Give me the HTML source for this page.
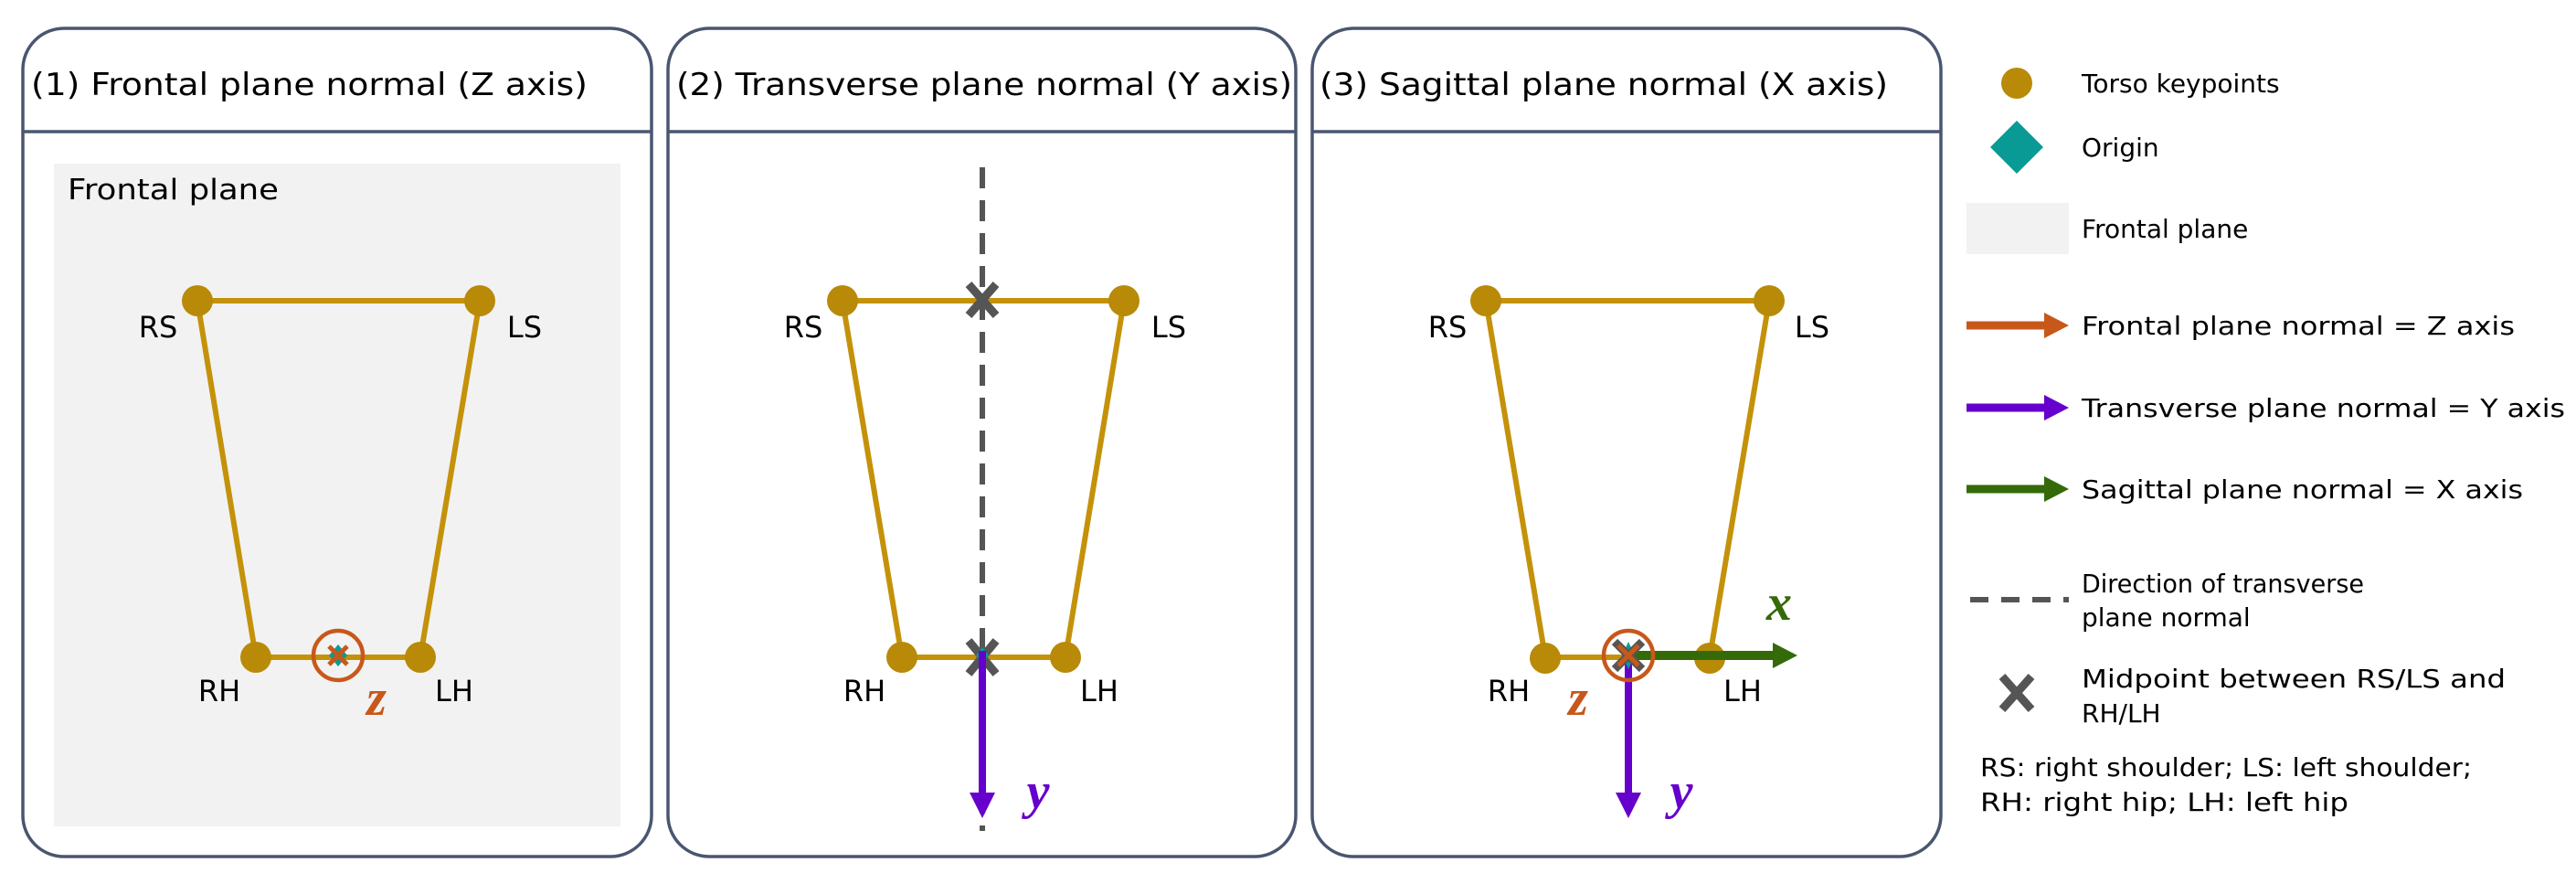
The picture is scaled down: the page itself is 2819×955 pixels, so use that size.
<!DOCTYPE html>
<html><head><meta charset="utf-8"><style>
html,body{margin:0;padding:0;background:#fff;}
svg{display:block;}
text{font-family:"DejaVu Sans","Liberation Sans",sans-serif;fill:#000;}
.it{font-family:"Liberation Serif",serif;font-style:italic;font-weight:bold;}
</style></head><body>
<svg width="2819" height="955" viewBox="0 0 2819 955" xmlns="http://www.w3.org/2000/svg">
<!-- Panels -->
<g fill="none" stroke="#4a5670" stroke-width="3.5">
<rect x="25" y="31" width="688" height="906" rx="45"/>
<line x1="25" y1="144" x2="713" y2="144"/>
<rect x="731" y="31" width="687" height="906" rx="45"/>
<line x1="731" y1="144" x2="1418" y2="144"/>
<rect x="1436" y="31" width="688" height="906" rx="45"/>
<line x1="1436" y1="144" x2="2124" y2="144"/>
</g>
<g font-size="34">
<text x="34" y="104" textLength="609" lengthAdjust="spacingAndGlyphs">(1) Frontal plane normal (Z axis)</text>
<text x="740" y="104" textLength="674" lengthAdjust="spacingAndGlyphs">(2) Transverse plane normal (Y axis)</text>
<text x="1444" y="104" textLength="622" lengthAdjust="spacingAndGlyphs">(3) Sagittal plane normal (X axis)</text>
</g>

<!-- Panel 1 -->
<rect x="59" y="179" width="620" height="725" fill="#f2f2f2"/>
<text x="74" y="218" font-size="31" textLength="231" lengthAdjust="spacingAndGlyphs">Frontal plane</text>
<g stroke="#c4920a" stroke-width="6" fill="none">
<polyline points="216,329 525,329 460,719 280,719 216,329"/>
</g>
<g fill="#b88a08"><circle cx="216" cy="329" r="17"/><circle cx="525" cy="329" r="17"/><circle cx="280" cy="719" r="17"/><circle cx="460" cy="719" r="17"/></g>
<g font-size="32">
<text x="173" y="369" text-anchor="middle">RS</text><text x="574" y="369" text-anchor="middle">LS</text>
<text x="240" y="767" text-anchor="middle">RH</text><text x="497" y="767" text-anchor="middle">LH</text>
</g>
<polygon points="370,705 380,717 370,729 360,717" fill="#0a9a96"/>
<g stroke="#c8581a" stroke-width="5"><line x1="360" y1="707" x2="380" y2="727"/><line x1="380" y1="707" x2="360" y2="727"/></g>
<circle cx="370" cy="717" r="27" fill="none" stroke="#c8581a" stroke-width="4.5"/>
<text class="it" x="412" y="782" font-size="56" text-anchor="middle" style="fill:#c8581a">z</text>

<!-- Panel 2 -->
<g stroke="#c4920a" stroke-width="6" fill="none">
<polyline points="922,329 1230,329 1166,719 987,719 922,329"/>
</g>
<line x1="1075" y1="183" x2="1075" y2="909" stroke="#555" stroke-width="6" stroke-dasharray="23,13"/>
<g fill="#b88a08"><circle cx="922" cy="329" r="17"/><circle cx="1230" cy="329" r="17"/><circle cx="987" cy="719" r="17"/><circle cx="1166" cy="719" r="17"/></g>
<g stroke="#555" stroke-width="9"><line x1="1060" y1="311" x2="1090" y2="345"/><line x1="1090" y1="311" x2="1060" y2="345"/>
<line x1="1060" y1="701" x2="1090" y2="737"/><line x1="1090" y1="701" x2="1060" y2="737"/></g>
<polygon points="1075,708 1082,717 1075,726 1068,717" fill="#0a9a96"/>
<line x1="1075" y1="712" x2="1075" y2="870" stroke="#6600cc" stroke-width="8"/>
<polygon points="1061,867 1089,867 1075,895" fill="#6600cc"/>
<text class="it" x="1136" y="884" font-size="56" text-anchor="middle" style="fill:#6600cc">y</text>
<g font-size="32">
<text x="879" y="369" text-anchor="middle">RS</text><text x="1279" y="369" text-anchor="middle">LS</text>
<text x="946" y="767" text-anchor="middle">RH</text><text x="1203" y="767" text-anchor="middle">LH</text>
</g>

<!-- Panel 3 -->
<g stroke="#c4920a" stroke-width="6" fill="none">
<polyline points="1626,329 1936,329 1871,719 1691,719 1626,329"/>
</g>
<g fill="#b88a08"><circle cx="1626" cy="329" r="17"/><circle cx="1936" cy="329" r="17"/><circle cx="1691" cy="720" r="17"/><circle cx="1871" cy="720" r="17"/></g>
<line x1="1782" y1="717" x2="1942" y2="717" stroke="#356a08" stroke-width="10"/>
<polygon points="1940,703 1967,717 1940,731" fill="#356a08"/>
<line x1="1782" y1="717" x2="1782" y2="870" stroke="#6600cc" stroke-width="8"/>
<polygon points="1768,867 1796,867 1782,895" fill="#6600cc"/>
<polygon points="1782,702 1789,717 1782,732 1775,717" fill="#0a9a96"/>
<g stroke="#555" stroke-width="9"><line x1="1767" y1="702" x2="1797" y2="732"/><line x1="1797" y1="702" x2="1767" y2="732"/></g>
<g stroke="#c8581a" stroke-width="5"><line x1="1771" y1="706" x2="1793" y2="728"/><line x1="1793" y1="706" x2="1771" y2="728"/></g>
<circle cx="1782" cy="717" r="27" fill="none" stroke="#c8581a" stroke-width="4.5"/>
<text class="it" x="1947" y="678" font-size="56" text-anchor="middle" style="fill:#356a08">x</text>
<text class="it" x="1727" y="782" font-size="56" text-anchor="middle" style="fill:#c8581a">z</text>
<text class="it" x="1840" y="884" font-size="56" text-anchor="middle" style="fill:#6600cc">y</text>
<g font-size="32">
<text x="1584" y="369" text-anchor="middle">RS</text><text x="1983" y="369" text-anchor="middle">LS</text>
<text x="1651" y="767" text-anchor="middle">RH</text><text x="1907" y="767" text-anchor="middle">LH</text>
</g>

<!-- Legend -->
<circle cx="2207" cy="91" r="17" fill="#b88a08"/>
<polygon points="2207,132 2236,161 2207,190 2178,161" fill="#0a9a96"/>
<rect x="2152" y="222" width="112" height="56" fill="#f2f2f2"/>
<line x1="2152" y1="356" x2="2240" y2="356" stroke="#c8581a" stroke-width="9"/><polygon points="2237,342 2264,356 2237,370" fill="#c8581a"/>
<line x1="2152" y1="446" x2="2240" y2="446" stroke="#6600cc" stroke-width="9"/><polygon points="2237,432 2264,446 2237,460" fill="#6600cc"/>
<line x1="2152" y1="535" x2="2240" y2="535" stroke="#356a08" stroke-width="9"/><polygon points="2237,521 2264,535 2237,549" fill="#356a08"/>
<line x1="2156" y1="656" x2="2264" y2="656" stroke="#555" stroke-width="6" stroke-dasharray="20,14"/>
<g stroke="#555" stroke-width="9"><line x1="2191" y1="740" x2="2223" y2="776"/><line x1="2223" y1="740" x2="2191" y2="776"/></g>
<g font-size="28">
<text x="2278" y="101">Torso keypoints</text>
<text x="2278" y="171">Origin</text>
<text x="2278" y="260">Frontal plane</text>
<text x="2278" y="366" textLength="474" lengthAdjust="spacingAndGlyphs">Frontal plane normal = Z axis</text>
<text x="2278" y="456" textLength="529" lengthAdjust="spacingAndGlyphs">Transverse plane normal = Y axis</text>
<text x="2278" y="545" textLength="483" lengthAdjust="spacingAndGlyphs">Sagittal plane normal = X axis</text>
<text x="2278" y="648" textLength="309" lengthAdjust="spacingAndGlyphs">Direction of transverse</text>
<text x="2278" y="685">plane normal</text>
<text x="2278" y="752" textLength="464" lengthAdjust="spacingAndGlyphs">Midpoint between RS/LS and</text>
<text x="2278" y="790">RH/LH</text>
<text x="2167" y="849" textLength="538" lengthAdjust="spacingAndGlyphs">RS: right shoulder; LS: left shoulder;</text>
<text x="2167" y="887" textLength="403" lengthAdjust="spacingAndGlyphs">RH: right hip; LH: left hip</text>
</g>
</svg>
</body></html>
